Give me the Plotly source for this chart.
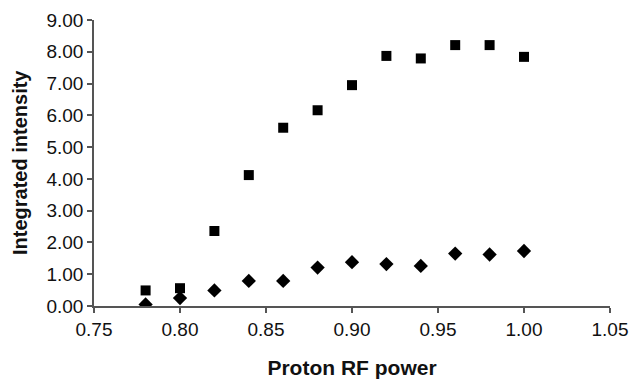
import plotly.graph_objects as go

power = [0.78, 0.80, 0.82, 0.84, 0.86, 0.88, 0.90, 0.92, 0.94, 0.96, 0.98, 1.00]
squares = [0.49, 0.56, 2.36, 4.12, 5.61, 6.16, 6.95, 7.87, 7.79, 8.21, 8.21, 7.84]
diamonds = [0.05, 0.25, 0.49, 0.79, 0.79, 1.21, 1.38, 1.32, 1.26, 1.65, 1.62, 1.73]

x_ticks = [0.75, 0.80, 0.85, 0.90, 0.95, 1.00, 1.05]
y_ticks = [0, 1, 2, 3, 4, 5, 6, 7, 8, 9]
y_title = "Integrated intensity"
x_title = "Proton RF power"

fig = go.Figure()
fig.add_trace(go.Scatter(x=power, y=squares, mode="markers",
                         marker=dict(symbol="square", size=10, color="black"),
                         showlegend=False))
fig.add_trace(go.Scatter(x=power, y=diamonds, mode="markers",
                         marker=dict(symbol="diamond", size=11, color="black"),
                         showlegend=False))

font = "Liberation Sans, Arial, sans-serif"
fig.update_layout(
    width=632, height=382,
    margin=dict(l=94, r=22, t=20, b=76),
    paper_bgcolor="white", plot_bgcolor="white",
    font=dict(family=font, size=19, color="#111"),
)
fig.update_xaxes(
    range=[0.75, 1.05], tickvals=x_ticks, ticktext=[f"{v:.2f}" for v in x_ticks],
    showgrid=False, zeroline=False, showline=True, linecolor="#555", linewidth=1.5,
    ticks="outside", ticklen=5, tickcolor="#555", tickwidth=1.5, automargin=False,
    tickfont=dict(size=19, color="#111"),
    title=dict(text=f"<b>{x_title}</b>", font=dict(size=21, color="#111"), standoff=22),
)
fig.update_yaxes(
    range=[0, 9], tickvals=y_ticks, ticktext=[f"{v:.2f}" for v in y_ticks],
    showgrid=False, zeroline=False, showline=True, linecolor="#555", linewidth=1.5,
    ticks="outside", ticklen=5, tickcolor="#555", tickwidth=1.5, automargin=False,
    tickfont=dict(size=19, color="#111"),
)
fig.add_annotation(
    text=f"<b>{y_title}</b>", textangle=-90, showarrow=False,
    xref="paper", yref="paper", x=0, y=0.5, xanchor="center", yanchor="middle",
    xshift=-74, font=dict(size=20, color="#111"),
)
fig.write_html("out.html")
